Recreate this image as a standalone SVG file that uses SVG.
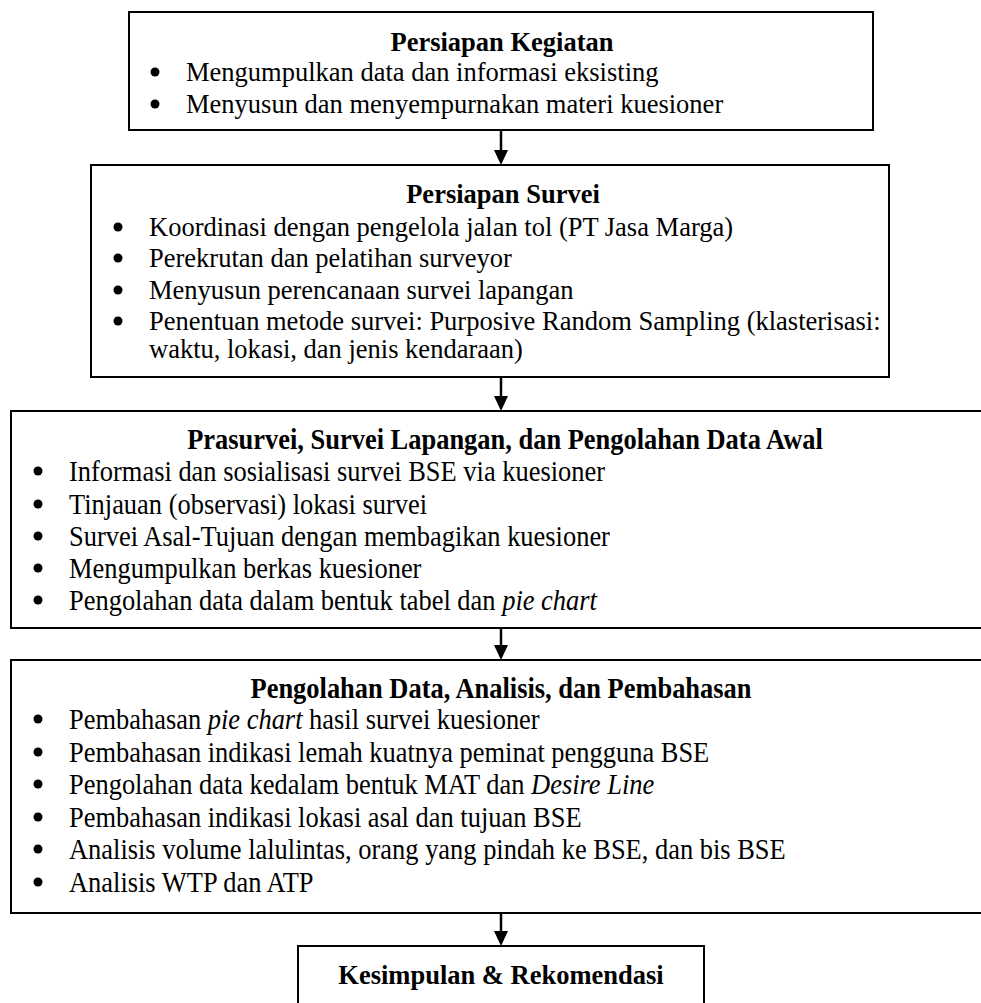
<svg xmlns="http://www.w3.org/2000/svg" width="981" height="1003" viewBox="0 0 981 1003">
<defs>
<style>
.box{fill:#fff;stroke:#000;stroke-width:2}
.t{font-family:"Liberation Serif","Times New Roman",serif;font-size:26.5px;fill:#000}
.c{font-family:"Liberation Serif","Times New Roman",serif;font-size:28.6px;fill:#000}
.h{font-weight:bold;text-anchor:middle}
.conn{stroke:#000;stroke-width:2.5;fill:none}
.ah{fill:#000}
</style>
</defs>
<rect width="981" height="1003" fill="#fff"/>
<g id="connectors">
<line class="conn" x1="501" y1="131" x2="501" y2="151"/><path class="ah" d="M494,150 L508,150 L501,165 Z"/>
<line class="conn" x1="501" y1="378" x2="501" y2="397"/><path class="ah" d="M494,396 L508,396 L501,411 Z"/>
<line class="conn" x1="501" y1="628" x2="501" y2="646"/><path class="ah" d="M494,645 L508,645 L501,660 Z"/>
<line class="conn" x1="501" y1="913" x2="501" y2="932"/><path class="ah" d="M494,931 L508,931 L501,946 Z"/>
</g>
<g id="n1">
<rect class="box" x="129" y="12" width="744" height="118"/>
<text class="t h" x="502" y="51">Persiapan Kegiatan</text>
<circle cx="155" cy="72" r="4.5"/><text class="t" x="186" y="81">Mengumpulkan data dan informasi eksisting</text>
<circle cx="155" cy="104" r="4.5"/><text class="t" x="186" y="113">Menyusun dan menyempurnakan materi kuesioner</text>
</g>
<g id="n2">
<rect class="box" x="91" y="165" width="798" height="212"/>
<text class="t h" x="503" y="203">Persiapan Survei</text>
<circle cx="118" cy="227" r="4.5"/><text class="t" x="149" y="236">Koordinasi dengan pengelola jalan tol (PT Jasa Marga)</text>
<circle cx="118" cy="258" r="4.5"/><text class="t" x="149" y="267">Perekrutan dan pelatihan surveyor</text>
<circle cx="118" cy="290" r="4.5"/><text class="t" x="149" y="299">Menyusun perencanaan survei lapangan</text>
<circle cx="118" cy="321" r="4.5"/><text class="t" x="149" y="330">Penentuan metode survei: Purposive Random Sampling (klasterisasi:</text>
<text class="t" x="149" y="358">waktu, lokasi, dan jenis kendaraan)</text>
</g>
<g id="n3">
<rect class="box" x="11" y="411" width="985" height="217"/>
<text class="c h" transform="translate(505 0) scale(0.925 1)" x="0" y="449">Prasurvei, Survei Lapangan, dan Pengolahan Data Awal</text>
<circle cx="38" cy="471" r="4.5"/>
<circle cx="38" cy="504" r="4.5"/>
<circle cx="38" cy="536" r="4.5"/>
<circle cx="38" cy="568" r="4.5"/>
<circle cx="38" cy="600" r="4.5"/>
<g transform="translate(69 0) scale(0.925 1)">
<text class="c" x="0" y="481">Informasi dan sosialisasi survei BSE via kuesioner</text>
<text class="c" x="0" y="514">Tinjauan (observasi) lokasi survei</text>
<text class="c" x="0" y="546">Survei Asal-Tujuan dengan membagikan kuesioner</text>
<text class="c" x="0" y="578">Mengumpulkan berkas kuesioner</text>
<text class="c" x="0" y="610">Pengolahan data dalam bentuk tabel dan <tspan font-style="italic">pie chart</tspan></text>
</g>
</g>
<g id="n4">
<rect class="box" x="11" y="660" width="985" height="253"/>
<text class="c h" transform="translate(501 0) scale(0.925 1)" x="0" y="698">Pengolahan Data, Analisis, dan Pembahasan</text>
<circle cx="38" cy="719" r="4.5"/>
<circle cx="38" cy="752" r="4.5"/>
<circle cx="38" cy="784" r="4.5"/>
<circle cx="38" cy="817" r="4.5"/>
<circle cx="38" cy="849" r="4.5"/>
<circle cx="38" cy="882" r="4.5"/>
<g transform="translate(69 0) scale(0.925 1)">
<text class="c" x="0" y="729">Pembahasan <tspan font-style="italic">pie chart</tspan> hasil survei kuesioner</text>
<text class="c" x="0" y="762">Pembahasan indikasi lemah kuatnya peminat pengguna BSE</text>
<text class="c" x="0" y="794">Pengolahan data kedalam bentuk MAT dan <tspan font-style="italic">Desire Line</tspan></text>
<text class="c" x="0" y="827">Pembahasan indikasi lokasi asal dan tujuan BSE</text>
<text class="c" x="0" y="859">Analisis volume lalulintas, orang yang pindah ke BSE, dan bis BSE</text>
<text class="c" x="0" y="892">Analisis WTP dan ATP</text>
</g>
</g>
<g id="n5">
<rect class="box" x="298" y="946" width="406" height="60"/>
<text class="t h" x="501" y="984">Kesimpulan &amp; Rekomendasi</text>
</g>
</svg>
